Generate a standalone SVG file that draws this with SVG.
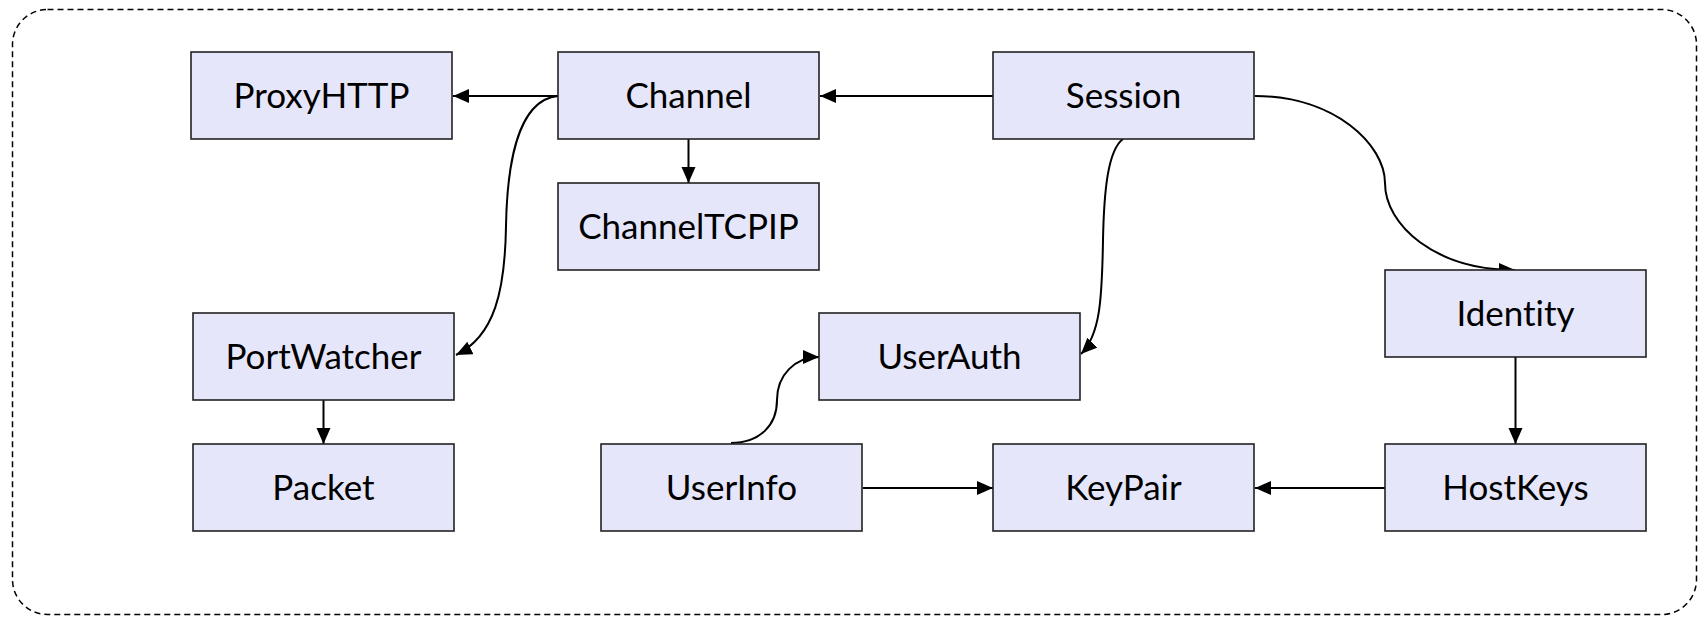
<svg xmlns="http://www.w3.org/2000/svg" width="1704" height="617" viewBox="0 0 1704 617">
<style>
.box{fill:#E6E6FA;stroke:#222;stroke-width:1.6}
.lbl{font-family:Lato,"Open Sans",sans-serif;font-size:35px;fill:#000;text-anchor:middle;font-variant-ligatures:none;font-feature-settings:"liga" 0}
.edge{fill:none;stroke:#000;stroke-width:2;marker-end:url(#arr)}
</style>
<defs>
<marker id="arr" markerUnits="userSpaceOnUse" markerWidth="17" markerHeight="15" refX="16" refY="7" orient="auto">
<path d="M0,0 L16,7 L0,14 z" fill="#000"/>
</marker>
</defs>
<rect x="12.5" y="9.5" width="1684" height="605" rx="35" ry="35" fill="none" stroke="#000" stroke-width="1.5" stroke-dasharray="6,4"/>
<g id="connectors">
<path class="edge" d="M558,96 L453,96"/>
<path class="edge" d="M558,96 C516,100 507,170 506,226 C505,290 495,336 456,355"/>
<path class="edge" d="M688.5,139 L688.5,183"/>
<path class="edge" d="M993,96 L820,96"/>
<path class="edge" d="M1255,96 C1335,96 1385,145 1385,183 C1385,225 1435,270 1515,270"/>
<path class="edge" d="M1123,139 C1108,150 1104,190 1103,240 C1102,300 1100,335 1081,354"/>
<path class="edge" d="M731,443 C760,443 777,425 777,400 C777,375 795,357 819,357"/>
<path class="edge" d="M863,488 L993,488"/>
<path class="edge" d="M1385,488 L1255,488"/>
<path class="edge" d="M1515.5,357 L1515.5,444"/>
<path class="edge" d="M323.5,400 L323.5,444"/>
</g>
<g id="ProxyHTTP"><rect class="box" x="191" y="52" width="261" height="87"/><text class="lbl" x="321.5" y="108">ProxyHTTP</text></g>
<g id="Channel"><rect class="box" x="558" y="52" width="261" height="87"/><text class="lbl" x="688.5" y="108">Channel</text></g>
<g id="Session"><rect class="box" x="993" y="52" width="261" height="87"/><text class="lbl" x="1123.5" y="108">Session</text></g>
<g id="ChannelTCPIP"><rect class="box" x="558" y="183" width="261" height="87"/><text class="lbl" x="688.5" y="239">ChannelTCPIP</text></g>
<g id="Identity"><rect class="box" x="1385" y="270" width="261" height="87"/><text class="lbl" x="1515.5" y="326">Identity</text></g>
<g id="PortWatcher"><rect class="box" x="193" y="313" width="261" height="87"/><text class="lbl" x="323.5" y="369">PortWatcher</text></g>
<g id="UserAuth"><rect class="box" x="819" y="313" width="261" height="87"/><text class="lbl" x="949.5" y="369">UserAuth</text></g>
<g id="Packet"><rect class="box" x="193" y="444" width="261" height="87"/><text class="lbl" x="323.5" y="500">Packet</text></g>
<g id="UserInfo"><rect class="box" x="601" y="444" width="261" height="87"/><text class="lbl" x="731.5" y="500">UserInfo</text></g>
<g id="KeyPair"><rect class="box" x="993" y="444" width="261" height="87"/><text class="lbl" x="1123.5" y="500">KeyPair</text></g>
<g id="HostKeys"><rect class="box" x="1385" y="444" width="261" height="87"/><text class="lbl" x="1515.5" y="500">HostKeys</text></g>
</svg>
